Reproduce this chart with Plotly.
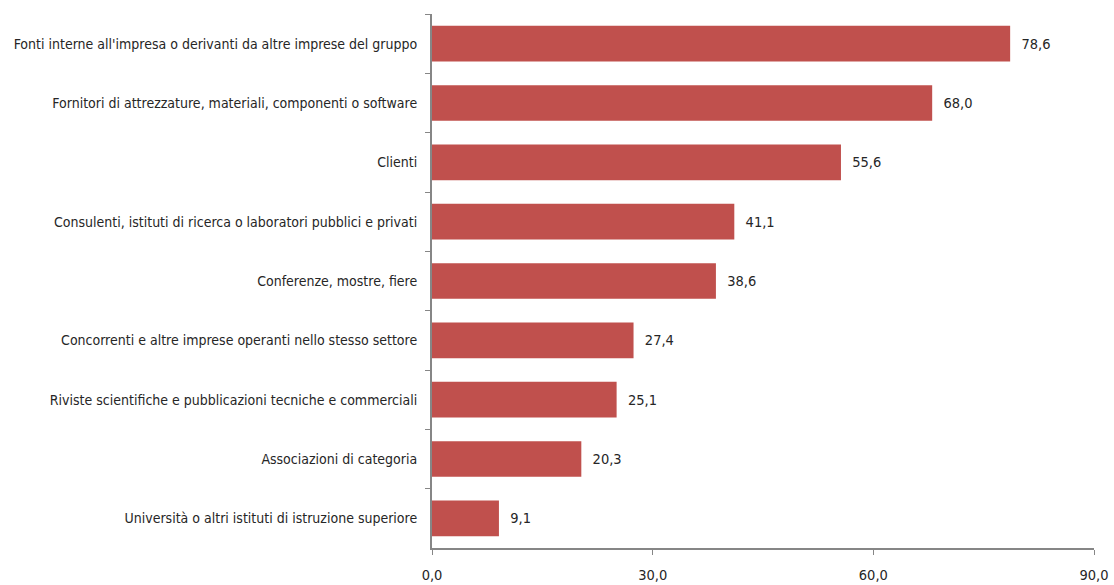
import plotly.graph_objects as go

categories = [
    "Fonti interne all'impresa o derivanti da altre imprese del gruppo",
    "Fornitori di attrezzature, materiali, componenti o software",
    "Clienti",
    "Consulenti, istituti di ricerca o laboratori pubblici e privati",
    "Conferenze, mostre, fiere",
    "Concorrenti e altre imprese operanti nello stesso settore",
    "Riviste scientifiche e pubblicazioni tecniche e commerciali",
    "Associazioni di categoria",
    "Università o altri istituti di istruzione superiore",
]
values = [78.6, 68.0, 55.6, 41.1, 38.6, 27.4, 25.1, 20.3, 9.1]
x_ticks = [0, 30, 60, 90]

FONT = "DejaVu Sans Condensed, Liberation Sans, sans-serif"
AXIS = "#868686"
TXT = "#262626"

fig = go.Figure(go.Bar(
    x=values, y=categories, orientation="h",
    marker=dict(color="#C0504D", line=dict(width=0)),
    width=0.6,
    texttemplate="\u00a0\u00a0%{x:.1f}", textposition="outside",
    textfont=dict(family=FONT, size=14.5, color=TXT),
    cliponaxis=False,
    hoverinfo="skip",
))

fig.update_layout(
    width=1114, height=585,
    margin=dict(l=432, r=20, t=14, b=37),
    plot_bgcolor="white", paper_bgcolor="white",
    separators=",.",
    showlegend=False,
    font=dict(family=FONT, size=14, color=TXT),
)
fig.update_xaxes(
    range=[0, 90], tickvals=x_ticks, tickformat=".1f",
    showgrid=False, zeroline=False, automargin=False,
    showline=True, linecolor=AXIS, linewidth=2,
    ticks="outside", ticklen=5, tickcolor=AXIS, tickwidth=1,
    ticklabelstandoff=8,
    tickfont=dict(family=FONT, size=14.5, color=TXT),
)
fig.update_yaxes(
    autorange="reversed", tickson="boundaries", automargin=False,
    showgrid=False, showline=True, linecolor=AXIS, linewidth=2,
    ticks="outside", ticklen=5, tickcolor=AXIS, tickwidth=1,
    ticklabelstandoff=10,
    tickfont=dict(family=FONT, size=14, color=TXT),
)

fig.write_html(
    "out.html",
    config={"displayModeBar": False},
    post_script="document.body.style.margin='0';document.body.style.overflow='hidden';",
)
